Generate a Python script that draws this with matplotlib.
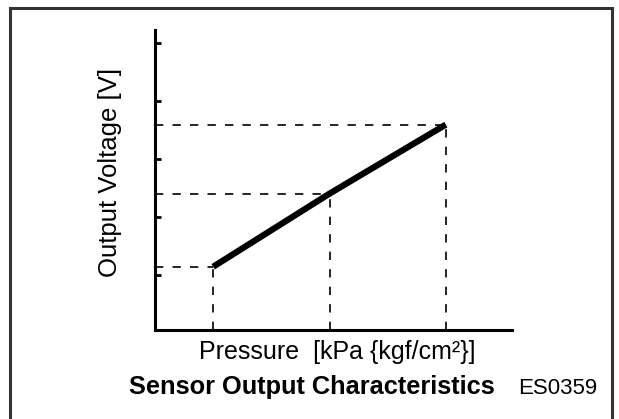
"""Sensor output characteristics diagram."""
import matplotlib
matplotlib.use('Agg')
from matplotlib import pyplot as plt
from matplotlib.patches import Rectangle

# Characteristic points (arbitrary units, no scale printed on the chart)
pressure = [1.0, 2.0, 3.0]
voltage = [1.14, 2.40, 3.59]
volt_ticks = [1, 2, 3, 4, 5]

plt.rcParams['font.family'] = ['Liberation Sans', 'DejaVu Sans']

fig = plt.figure(figsize=(6.19, 4.19), dpi=100)
ax = fig.add_axes([0.2504, 0.2124, 0.577, 0.716])
ax.set_xlim(0.5, 3.57)
ax.set_ylim(0.05, 5.22)

# Dashed guide lines
for p, v in zip(pressure, voltage):
    ax.plot([0.5, p], [v, v], c='black', lw=1.2, ls=(0, (5, 5.5)))
    ax.plot([p, p], [0.05, v], c='black', lw=1.2, ls=(0, (5, 5.5)))

# Characteristic line
ax.plot(pressure, voltage, c='black', lw=4.5, solid_capstyle='butt')

# Axis formatting
for side in ['top', 'right']:
    ax.spines[side].set_visible(False)
for side in ['left', 'bottom']:
    ax.spines[side].set_linewidth(2.2)
ax.set_xticks([])
ax.set_yticks(volt_ticks)
ax.set_yticklabels([])
ax.tick_params(axis='y', direction='in', length=4.5, width=2)

# Labels
fig.text(110 / 619, 1 - 172 / 419, 'Output Voltage [V]', fontsize=18.5,
         rotation=90, ha='center', va='center')
fig.text(337 / 619, 1 - 352 / 419, 'Pressure  [kPa {kgf/cm²}]',
         fontsize=18, ha='center', va='center')
fig.text(312 / 619, 1 - 387 / 419, 'Sensor Output Characteristics',
         fontsize=18.3, fontweight='bold', ha='center', va='center')
fig.text(558 / 619, 1 - 388 / 419, 'ES0359', fontsize=16,
         ha='center', va='center')

# Frame around the picture
fig.patches.append(Rectangle((10 / 619, -0.1), 602 / 619, 1.1 - 8 / 419,
                             transform=fig.transFigure, fill=False,
                             edgecolor='#333333', lw=2.2))

fig.savefig('out.png', dpi=100)
